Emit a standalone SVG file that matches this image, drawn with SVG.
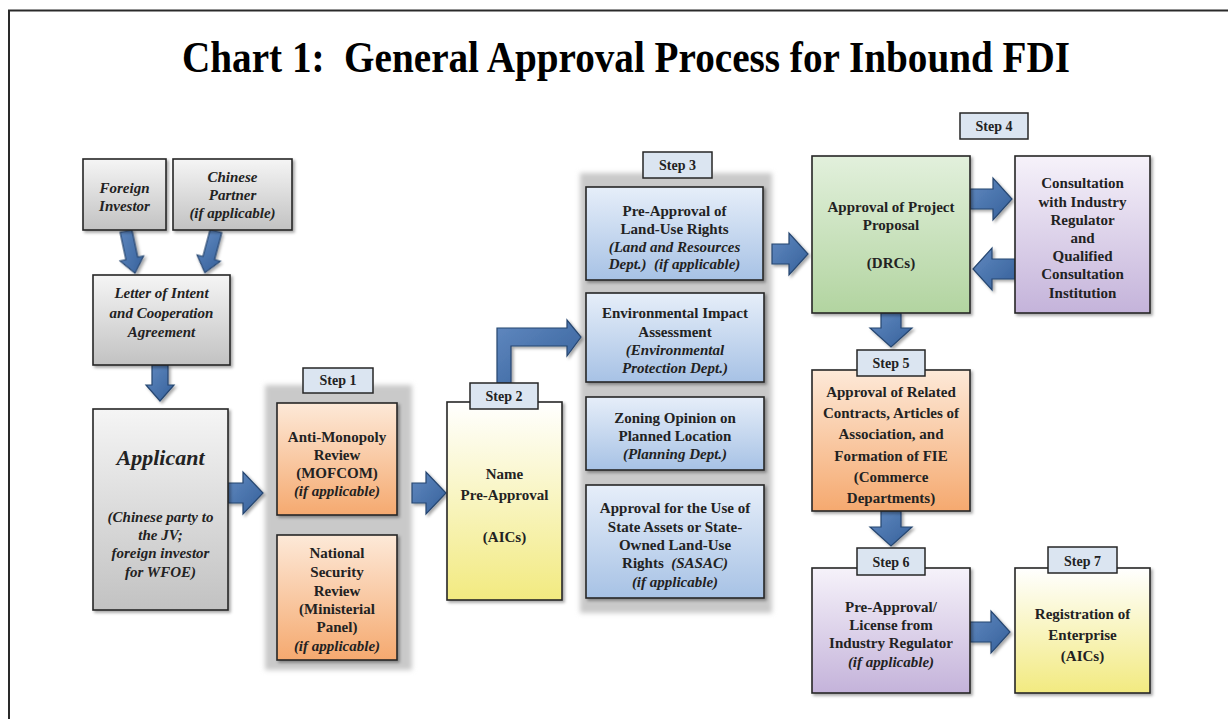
<svg xmlns="http://www.w3.org/2000/svg" width="1228" height="719" viewBox="0 0 1228 719" font-family="Liberation Serif, Tinos, DejaVu Serif, serif">
<defs>
<style>
.box{stroke:#262626;stroke-width:1.6;filter:url(#sh)}
.lbl{fill:#dbe5f1;stroke:#262626;stroke-width:1.5}
.panel{fill:#c9c9c9;filter:url(#soft)}
.arr{fill:url(#ga);stroke:#264670;stroke-width:1.2;filter:url(#sh)}
text{font-family:'Liberation Serif','Tinos','DejaVu Serif',serif;font-weight:bold;fill:#222;text-anchor:middle}
.t{font-size:15px}
.i{font-style:italic}
.s{font-size:14px}
</style>
<filter id="sh" x="-20%" y="-20%" width="140%" height="140%"><feDropShadow dx="2" dy="2" stdDeviation="1.5" flood-color="#000" flood-opacity="0.35"/></filter>
<filter id="soft" x="-10%" y="-10%" width="120%" height="120%"><feGaussianBlur stdDeviation="2.5"/></filter>
<linearGradient id="gGray" x1="0" y1="0" x2="0" y2="1"><stop offset="0" stop-color="#f5f5f5"/><stop offset="1" stop-color="#c2c2c2"/></linearGradient>
<linearGradient id="gOr" x1="0" y1="0" x2="0" y2="1"><stop offset="0" stop-color="#fde9d8"/><stop offset="1" stop-color="#f5a96f"/></linearGradient>
<linearGradient id="gBl" x1="0" y1="0" x2="0" y2="1"><stop offset="0" stop-color="#e6eef9"/><stop offset="1" stop-color="#a7c2e5"/></linearGradient>
<linearGradient id="gGr" x1="0" y1="0" x2="0" y2="1"><stop offset="0" stop-color="#e2f0dc"/><stop offset="1" stop-color="#b2d4a0"/></linearGradient>
<linearGradient id="gPu" x1="0" y1="0" x2="0" y2="1"><stop offset="0" stop-color="#f6f2fa"/><stop offset="1" stop-color="#c4b3da"/></linearGradient>
<linearGradient id="gYe" x1="0" y1="0" x2="0" y2="1"><stop offset="0" stop-color="#ffffff"/><stop offset="1" stop-color="#f2ea80"/></linearGradient>
<linearGradient id="ga" x1="0" y1="0" x2="1" y2="1"><stop offset="0" stop-color="#6189c0"/><stop offset="1" stop-color="#35609a"/></linearGradient>
</defs>
<rect width="1228" height="719" fill="#fff"/>
<path d="M9 719 V10.5 H1228" fill="none" stroke="#2a2a2a" stroke-width="2"/>
<text x="626" y="72" style="font-size:44px;fill:#000" textLength="888" lengthAdjust="spacingAndGlyphs" xml:space="preserve">Chart 1:  General Approval Process for Inbound FDI</text>

<g id="step1-panel"><rect class="panel" x="265" y="385" width="147" height="285"/></g>
<g id="step3-panel"><rect class="panel" x="580" y="173" width="192" height="440"/></g>

<g id="connectors">
<path class="arr" d="M-6 0 V28 H-12 L0 43 L12 28 H6 V0 Z" transform="translate(126,231) rotate(-12)"/>
<path class="arr" d="M-6 0 V28 H-12 L0 43 L12 28 H6 V0 Z" transform="translate(216,231) rotate(15)"/>
<path class="arr" d="M152 365 V385 H146 L160 401 L174 385 H168 V365 Z"/>
<path class="arr" d="M228 483 H243 V472 L263 493 L243 514 V503 H228 Z"/>
<path class="arr" d="M412 483 H426 V472 L446 493 L426 514 V503 H412 Z"/>
<path class="arr" d="M497 383 V328 H567 V320 L581 337 L567 356 V346 H511 V383 Z"/>
<path class="arr" d="M772 244 H789 V233 L808 254 L789 275 V264 H772 Z"/>
<path class="arr" d="M970 189 H993 V178 L1012 199 L993 220 V209 H970 Z"/>
<path class="arr" d="M1015 259 H992 V248 L973 269 L992 290 V279 H1015 Z"/>
<path class="arr" d="M881 313 V328 H870 L891 347 L912 328 H901 V313 Z"/>
<path class="arr" d="M881 511 V527 H870 L891 546 L912 527 H901 V511 Z"/>
<path class="arr" d="M970 622 H991 V611 L1010 632 L991 653 V642 H970 Z"/>
</g>

<g id="foreign-investor"><rect class="box" x="83" y="159" width="83" height="71" fill="url(#gGray)"/>
<text class="t i" x="124.5" y="193">Foreign</text><text class="t i" x="124.5" y="211">Investor</text></g>

<g id="chinese-partner"><rect class="box" x="173" y="159" width="119" height="71" fill="url(#gGray)"/>
<text class="t i" x="232.5" y="182">Chinese</text><text class="t i" x="232.5" y="200">Partner</text><text class="t i" x="232.5" y="218">(if applicable)</text></g>

<g id="letter-of-intent"><rect class="box" x="93" y="275" width="137" height="90" fill="url(#gGray)"/>
<text class="t i" x="161.5" y="298">Letter of Intent</text><text class="t i" x="161.5" y="318">and Cooperation</text><text class="t i" x="161.5" y="337">Agreement</text></g>

<g id="applicant"><rect class="box" x="93" y="409" width="135" height="201" fill="url(#gGray)"/>
<text class="i" x="160.5" y="465" style="font-size:22px">Applicant</text>
<text class="t i" x="160.5" y="522">(Chinese party to</text><text class="t i" x="160.5" y="540">the JV;</text><text class="t i" x="160.5" y="558">foreign investor</text><text class="t i" x="160.5" y="577">for WFOE)</text></g>

<g id="step1-label"><rect class="lbl" x="303" y="368" width="70" height="25"/><text class="s" x="338" y="385">Step 1</text></g>

<g id="anti-monopoly"><rect class="box" x="277" y="403" width="120" height="112" fill="url(#gOr)"/>
<text class="t" x="337" y="442">Anti-Monopoly</text><text class="t" x="337" y="460">Review</text><text class="t" x="337" y="478">(MOFCOM)</text><text class="t i" x="337" y="496">(if applicable)</text></g>

<g id="national-security"><rect class="box" x="277" y="535" width="120" height="125" fill="url(#gOr)"/>
<text class="t" x="337" y="558">National</text><text class="t" x="337" y="577">Security</text><text class="t" x="337" y="596">Review</text><text class="t" x="337" y="614">(Ministerial</text><text class="t" x="337" y="632">Panel)</text><text class="t i" x="337" y="651">(if applicable)</text></g>

<g id="name-preapproval"><rect class="box" x="447" y="402" width="115" height="198" fill="url(#gYe)"/>
<text class="t" x="504.5" y="479">Name</text><text class="t" x="504.5" y="500">Pre-Approval</text><text class="t" x="504.5" y="542">(AICs)</text></g>
<g id="step2-label"><rect class="lbl" x="470" y="383" width="68" height="26"/><text class="s" x="504" y="401">Step 2</text></g>

<g id="step3-label"><rect class="lbl" x="643" y="152" width="69" height="26"/><text class="s" x="677.5" y="170">Step 3</text></g>

<g id="land-use-rights"><rect class="box" x="586" y="187" width="177" height="93" fill="url(#gBl)"/>
<text class="t" x="674.5" y="216">Pre-Approval of</text><text class="t" x="674.5" y="234">Land-Use Rights</text><text class="t i" x="674.5" y="252">(Land and Resources</text><text class="t i" x="674.5" y="269" xml:space="preserve">Dept.)  (if applicable)</text></g>

<g id="environmental"><rect class="box" x="586" y="293" width="178" height="89" fill="url(#gBl)"/>
<text class="t" x="675" y="318">Environmental Impact</text><text class="t" x="675" y="337">Assessment</text><text class="t i" x="675" y="355">(Environmental</text><text class="t i" x="675" y="373">Protection Dept.)</text></g>

<g id="zoning"><rect class="box" x="586" y="397" width="178" height="73" fill="url(#gBl)"/>
<text class="t" x="675" y="423">Zoning Opinion on</text><text class="t" x="675" y="441">Planned Location</text><text class="t i" x="675" y="459">(Planning Dept.)</text></g>

<g id="state-assets"><rect class="box" x="586" y="485" width="178" height="113" fill="url(#gBl)"/>
<text class="t" x="675" y="513">Approval for the Use of</text><text class="t" x="675" y="532">State Assets or State-</text><text class="t" x="675" y="550">Owned Land-Use</text><text class="t" x="675" y="568" xml:space="preserve">Rights  <tspan class="i">(SASAC)</tspan></text><text class="t i" x="675" y="587">(if applicable)</text></g>

<g id="step4-label"><rect class="lbl" x="960" y="113" width="68" height="26"/><text class="s" x="994" y="131">Step 4</text></g>

<g id="project-proposal"><rect class="box" x="812" y="156" width="158" height="157" fill="url(#gGr)"/>
<text class="t" x="891" y="212">Approval of Project</text><text class="t" x="891" y="230">Proposal</text><text class="t" x="891" y="268">(DRCs)</text></g>

<g id="consultation"><rect class="box" x="1015" y="156" width="135" height="157" fill="url(#gPu)"/>
<text class="t" x="1082.5" y="188">Consultation</text><text class="t" x="1082.5" y="207">with Industry</text><text class="t" x="1082.5" y="225">Regulator</text><text class="t" x="1082.5" y="243">and</text><text class="t" x="1082.5" y="261">Qualified</text><text class="t" x="1082.5" y="279">Consultation</text><text class="t" x="1082.5" y="298">Institution</text></g>

<g id="related-contracts"><rect class="box" x="812" y="370" width="158" height="141" fill="url(#gOr)"/>
<text class="t" x="891" y="397">Approval of Related</text><text class="t" x="891" y="418">Contracts, Articles of</text><text class="t" x="891" y="439">Association, and</text><text class="t" x="891" y="461">Formation of FIE</text><text class="t" x="891" y="482">(Commerce</text><text class="t" x="891" y="503">Departments)</text></g>
<g id="step5-label"><rect class="lbl" x="857" y="350" width="68" height="26"/><text class="s" x="891" y="368">Step 5</text></g>

<g id="industry-license"><rect class="box" x="812" y="568" width="158" height="125" fill="url(#gPu)"/>
<text class="t" x="891" y="612">Pre-Approval/</text><text class="t" x="891" y="630">License from</text><text class="t" x="891" y="648">Industry Regulator</text><text class="t i" x="891" y="667">(if applicable)</text></g>
<g id="step6-label"><rect class="lbl" x="857" y="548" width="68" height="27"/><text class="s" x="891" y="567">Step 6</text></g>

<g id="registration"><rect class="box" x="1015" y="568" width="135" height="125" fill="url(#gYe)"/>
<text class="t" x="1082.5" y="619">Registration of</text><text class="t" x="1082.5" y="640">Enterprise</text><text class="t" x="1082.5" y="661">(AICs)</text></g>
<g id="step7-label"><rect class="lbl" x="1048" y="547" width="69" height="26"/><text class="s" x="1082.5" y="566">Step 7</text></g>
</svg>
